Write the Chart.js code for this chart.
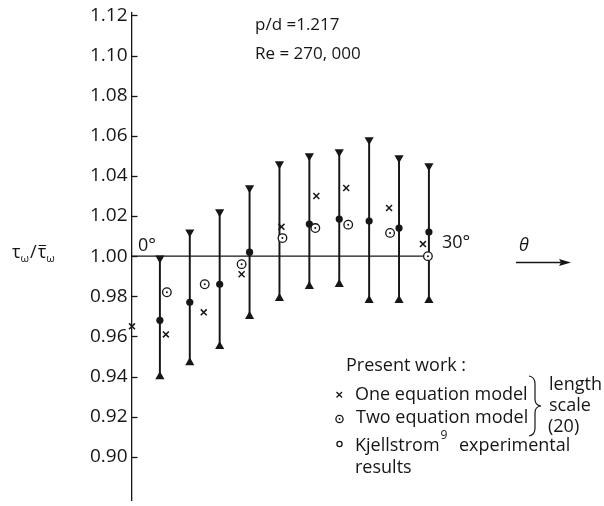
<!DOCTYPE html>
<html>
<head>
<meta charset="utf-8">
<script src="https://cdn.jsdelivr.net/npm/chart.js@4.4.0/dist/chart.umd.min.js"></script>
<style>
  html, body { margin: 0; padding: 0; background: #fff; }
</style>
</head>
<body>
<canvas id="shear" width="604" height="506"></canvas>
<script>
// Kjellstrom experiment: columns at theta (deg), range and mean
const columnTheta = [3, 6, 9, 12, 15, 18, 21, 24, 27, 30];
const expMax  = [0.999, 1.012, 1.022, 1.034, 1.046, 1.050, 1.052, 1.058, 1.049, 1.045];
const expMin  = [0.940, 0.947, 0.955, 0.970, 0.979, 0.985, 0.986, 0.978, 0.978, 0.978];
const expMean = [0.968, 0.977, 0.986, 1.002, null, 1.016, 1.0185, 1.0175, 1.014, 1.012];

// present work, one equation model (x)
const oneEqTheta = [0.2, 3.6, 7.4, 11.2, 15.2, 18.7, 21.7, 26.0, 29.4];
const oneEqValue = [0.965, 0.961, 0.972, 0.991, 1.0146, 1.030, 1.034, 1.024, 1.006];

// present work, two equation model (dotted circle)
const twoEqTheta = [3.7, 7.5, 11.2, 15.3, 18.6, 21.9, 26.1, 29.9];
const twoEqValue = [0.982, 0.986, 0.996, 1.009, 1.014, 1.0157, 1.0116, 1.000];

const yTicks = [0.90, 0.92, 0.94, 0.96, 0.98, 1.00, 1.02, 1.04, 1.06, 1.08, 1.10, 1.12];
const refLineTheta = [0, 30];
const refLineValue = 1.00;

const ink = '#161616';
const font = '"Open Sans", "DejaVu Sans", sans-serif';

const pts = (xs, ys) => xs.map((x, i) => ({ x: x, y: ys[i] }));

const extras = {
  id: 'extras',
  afterDraw(chart) {
    const ctx = chart.ctx;
    const ys = chart.scales.y;
    const left = chart.chartArea.left;
    ctx.save();
    ctx.strokeStyle = ink;
    ctx.fillStyle = ink;
    ctx.lineWidth = 1.3;

    // inward tick marks
    yTicks.forEach(v => {
      const y = Math.round(ys.getPixelForValue(v)) + 0.5;
      ctx.beginPath();
      ctx.moveTo(left, y);
      ctx.lineTo(left + 6, y);
      ctx.stroke();
    });

    ctx.textBaseline = 'middle';
    ctx.textAlign = 'left';

    // case labels
    ctx.font = '17px ' + font;
    ctx.fillText('p/d =1.217', 255, 25);
    ctx.fillText('Re = 270, 000', 255, 54);

    // angle labels
    ctx.font = '18px ' + font;
    ctx.fillText('0°', 138, 246);
    ctx.fillText('30°', 442, 243);
    ctx.font = 'italic 18px ' + font;
    ctx.fillText('θ', 519, 246);

    // theta arrow
    ctx.beginPath();
    ctx.moveTo(516, 262.5);
    ctx.lineTo(562, 262.5);
    ctx.stroke();
    ctx.beginPath();
    ctx.moveTo(571, 262.5);
    ctx.lineTo(559, 259);
    ctx.lineTo(561, 262.5);
    ctx.lineTo(559, 266);
    ctx.closePath();
    ctx.fill();

    // y axis title  tau_w / tau-bar_w
    let x = 12;
    ctx.font = '18px ' + font;
    ctx.fillText('τ', x, 253);
    x += ctx.measureText('τ').width;
    ctx.font = '11px ' + font;
    ctx.fillText('ω', x, 259);
    x += ctx.measureText('ω').width + 1;
    ctx.font = '18px ' + font;
    ctx.fillText('/', x, 253);
    x += ctx.measureText('/').width + 1;
    const tw = ctx.measureText('τ').width;
    ctx.fillText('τ', x, 253);
    ctx.lineWidth = 1;
    ctx.beginPath();
    ctx.moveTo(x + 1, 245.5);
    ctx.lineTo(x + tw, 245.5);
    ctx.stroke();
    x += tw;
    ctx.font = '11px ' + font;
    ctx.fillText('ω', x, 259);

    // legend
    ctx.font = '18px ' + font;
    ctx.fillText('Present work :', 346, 366);
    ctx.fillText('One equation model', 355, 395);
    ctx.fillText('Two equation model', 356, 418);
    ctx.fillText('Kjellstrom', 355, 446);
    const kw = ctx.measureText('Kjellstrom').width;
    ctx.fillText('experimental', 459, 446);
    ctx.fillText('results', 355, 468);
    ctx.font = '12px ' + font;
    ctx.fillText('9', 355 + kw + 1, 436);
    ctx.font = '18px ' + font;
    ctx.fillText('length', 549, 385);
    ctx.fillText('scale', 549, 406);
    ctx.fillText('(20)', 548, 427);

    // legend symbols
    ctx.lineWidth = 1.3;
    ctx.beginPath();
    ctx.moveTo(336.5, 392); ctx.lineTo(342, 397.5);
    ctx.moveTo(342, 392); ctx.lineTo(336.5, 397.5);
    ctx.stroke();
    ctx.beginPath();
    ctx.arc(339.5, 419, 3.6, 0, Math.PI * 2);
    ctx.stroke();
    ctx.beginPath();
    ctx.arc(339.5, 419, 0.9, 0, Math.PI * 2);
    ctx.fill();
    ctx.beginPath();
    ctx.arc(339.5, 444, 2.6, 0, Math.PI * 2);
    ctx.stroke();

    // brace
    ctx.lineWidth = 1.2;
    ctx.beginPath();
    ctx.moveTo(529, 376);
    ctx.quadraticCurveTo(535, 377, 535, 384);
    ctx.lineTo(535, 399);
    ctx.quadraticCurveTo(535, 405.5, 541, 406);
    ctx.quadraticCurveTo(535, 406.5, 535, 413);
    ctx.lineTo(535, 428);
    ctx.quadraticCurveTo(535, 435, 529, 436);
    ctx.stroke();

    ctx.restore();
  }
};

new Chart(document.getElementById('shear'), {
  type: 'scatter',
  data: {
    datasets: [
      {
        label: 'two eq centre',
        data: pts(twoEqTheta, twoEqValue),
        pointStyle: 'circle',
        pointRadius: 1,
        pointBackgroundColor: ink,
        pointBorderWidth: 0,
        clip: false
      },
      {
        label: 'Two equation model',
        data: pts(twoEqTheta, twoEqValue),
        pointStyle: 'circle',
        pointRadius: 4.3,
        pointBackgroundColor: '#fff',
        pointBorderColor: ink,
        pointBorderWidth: 1.3,
        clip: false
      },
      {
        label: 'One equation model',
        data: pts(oneEqTheta, oneEqValue),
        pointStyle: 'crossRot',
        pointRadius: 4.2,
        pointBorderColor: ink,
        pointBorderWidth: 1.5,
        clip: false
      },
      {
        label: 'Kjellstrom mean',
        data: pts(columnTheta, expMean),
        pointStyle: 'circle',
        pointRadius: 3.6,
        pointBackgroundColor: ink,
        pointBorderWidth: 0,
        clip: false
      },
      {
        label: 'Kjellstrom max',
        data: pts(columnTheta, expMax),
        pointStyle: 'triangle',
        rotation: 180,
        pointRadius: 5.3,
        pointBackgroundColor: ink,
        pointBorderWidth: 0,
        clip: false
      },
      {
        label: 'Kjellstrom min',
        data: pts(columnTheta, expMin),
        pointStyle: 'triangle',
        pointRadius: 5.3,
        pointBackgroundColor: ink,
        pointBorderWidth: 0,
        clip: false
      },
      {
        type: 'bar',
        label: 'Kjellstrom range',
        data: columnTheta.map((t, i) => ({ x: t, y: [expMin[i], expMax[i]] })),
        backgroundColor: ink,
        borderWidth: 0,
        barThickness: 1.3,
        grouped: false
      },
      {
        type: 'line',
        label: 'reference',
        data: refLineTheta.map(t => ({ x: t, y: refLineValue })),
        borderColor: ink,
        borderWidth: 1.4,
        pointRadius: 0,
        fill: false
      }
    ]
  },
  options: {
    responsive: false,
    animation: false,
    devicePixelRatio: 1,
    events: [],
    layout: { padding: { top: 13, right: 4, bottom: 0, left: 0 } },
    plugins: { legend: { display: false }, tooltip: { enabled: false } },
    scales: {
      x: {
        type: 'linear',
        display: false,
        min: 0.15,
        max: 47,
        offset: false
      },
      y: {
        type: 'linear',
        min: 0.8783,
        max: 1.1212,
        grid: { display: false, drawTicks: false },
        border: { display: true, color: ink, width: 1.3 },
        afterBuildTicks: s => { s.ticks = yTicks.map(v => ({ value: v })); },
        afterFit: s => { s.width = 131.5; s.paddingTop = 0; s.paddingBottom = 0; },
        ticks: {
          padding: 4,
          color: ink,
          font: { family: font, size: 19 },
          callback: v => v.toFixed(2)
        }
      }
    }
  },
  plugins: [extras]
});
</script>
</body>
</html>
